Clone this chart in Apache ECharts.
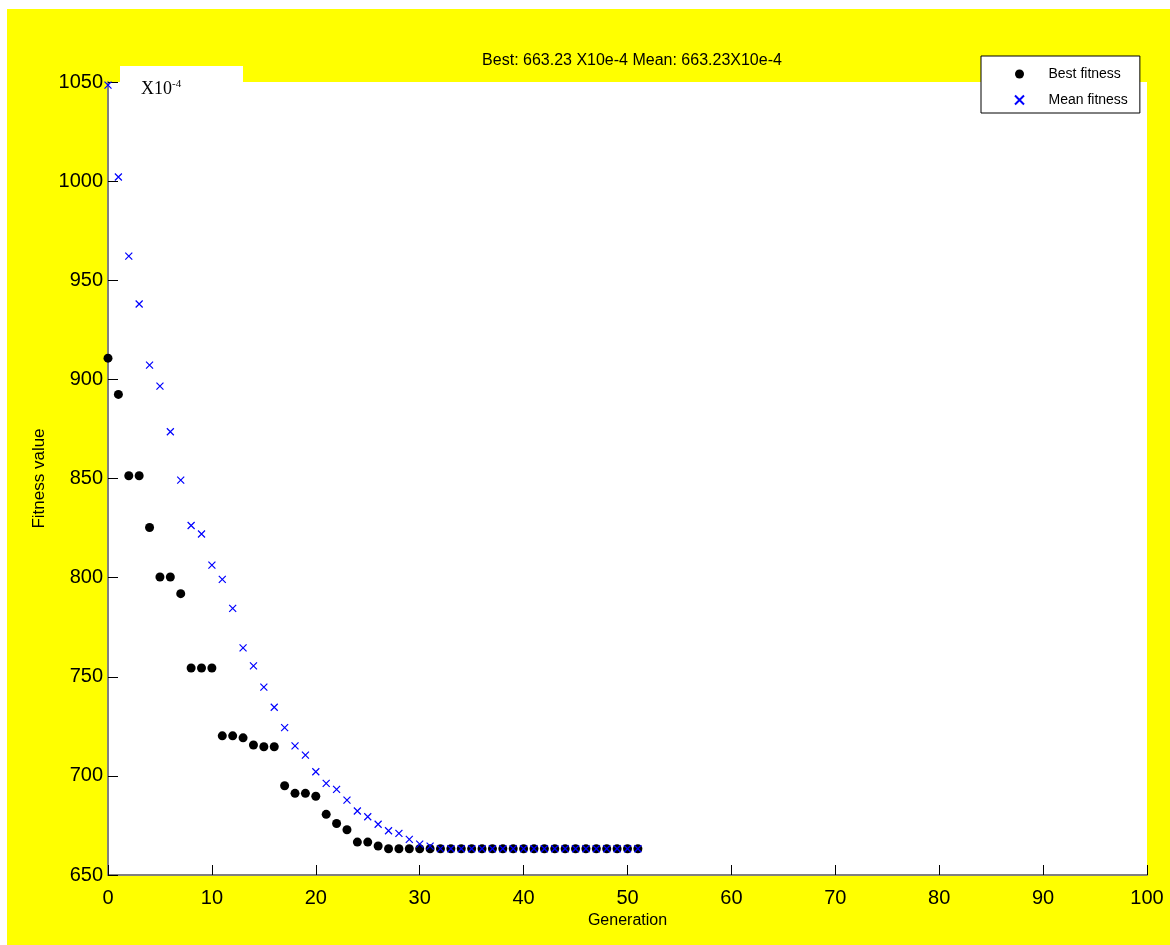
<!DOCTYPE html>
<html>
<head>
<meta charset="utf-8">
<script src="https://cdn.jsdelivr.net/npm/echarts@6/dist/echarts.min.js"></script>
<style>
html,body{margin:0;padding:0;background:#fff;}
#c{width:1170px;height:945px;}
</style>
</head>
<body>
<div id="c"></div>
<script>
const generations = Array.from({length: 52}, (_, i) => i);
const bestFitness = [
  910.7, 892.4, 851.4, 851.4, 825.3, 800.3, 800.3, 791.9, 754.4, 754.4,
  754.4, 720.2, 720.2, 719.2, 715.6, 714.7, 714.7, 695.0, 691.2, 691.2,
  689.7, 680.6, 676.0, 672.8, 666.6, 666.6, 664.6, 663.23, 663.23, 663.23,
  663.23, 663.23, 663.23, 663.23, 663.23, 663.23, 663.23, 663.23, 663.23, 663.23,
  663.23, 663.23, 663.23, 663.23, 663.23, 663.23, 663.23, 663.23, 663.23, 663.23,
  663.23, 663.23
];
const meanFitness = [
  1048.4, 1002.1, 962.2, 938.0, 907.2, 896.6, 873.6, 849.2, 826.3, 822.0,
  806.3, 799.1, 784.5, 764.6, 755.5, 744.8, 734.6, 724.3, 715.1, 710.5,
  702.1, 696.2, 693.2, 687.8, 682.3, 679.4, 675.6, 672.3, 671.0, 668.0,
  665.6, 664.6, 663.3, 663.23, 663.23, 663.23, 663.23, 663.23, 663.23, 663.23,
  663.23, 663.23, 663.23, 663.23, 663.23, 663.23, 663.23, 663.23, 663.23, 663.23,
  663.23, 663.23
];
const titleText = 'Best: 663.23 X10e-4 Mean: 663.23X10e-4';

const chart = echarts.init(document.getElementById('c'), null, {renderer: 'canvas'});
const font = 'Arial, "Liberation Sans", sans-serif';
const xMark = 'path://M0,0L10,10M10,0L0,10';

chart.setOption({
  backgroundColor: 'transparent',
  animation: false,
  graphic: [
    {type: 'rect', z: -10, silent: true, shape: {x: 7, y: 9, width: 1163, height: 936}, style: {fill: '#ffff00'}},
    {type: 'rect', z: 10, silent: true, shape: {x: 120, y: 66, width: 123, height: 18}, style: {fill: '#ffffff'}},
    {type: 'text', z: 11, left: 141, top: 79, style: {
      text: '{b|X10}{s|-4}', rich: {
        b: {fontFamily: '"Liberation Serif", "Times New Roman", serif', fontSize: 18, fill: '#000'},
        s: {fontFamily: '"Liberation Serif", "Times New Roman", serif', fontSize: 11, fill: '#000', verticalAlign: 'top', padding: [0, 0, 10, 0]}
      }
    }}
  ],
  title: {
    text: titleText, left: 627, top: 48, textAlign: 'center',
    textStyle: {fontFamily: font, fontSize: 16, fontWeight: 'normal', color: '#000'}
  },
  legend: {
    orient: 'vertical', left: 981, top: 56, width: 157,
    backgroundColor: '#fff', borderColor: '#000', borderWidth: 1,
    padding: [11, 12, 6, 33], itemGap: 12, itemWidth: 12, itemHeight: 9,
    textStyle: {fontFamily: font, fontSize: 14, color: '#000', padding: [0, 0, 0, 18], width: 95},
    data: [
      {name: 'Best fitness', icon: 'circle'},
      {name: 'Mean fitness', icon: xMark}
    ]
  },
  grid: {left: 108, right: 23, top: 82, bottom: 70, show: true, backgroundColor: '#fff', borderWidth: 0},
  xAxis: {
    type: 'value', min: 0, max: 100, interval: 10,
    name: 'Generation', nameLocation: 'middle', nameGap: 35,
    nameTextStyle: {fontFamily: font, fontSize: 16, color: '#000'},
    axisLine: {show: true, onZero: false, lineStyle: {color: '#808080', width: 2}},
    axisTick: {show: true, inside: true, length: 10, lineStyle: {color: '#000', width: 1}},
    axisLabel: {fontFamily: font, fontSize: 20, color: '#000', margin: 13},
    splitLine: {show: false}
  },
  yAxis: {
    type: 'value', min: 650, max: 1050, interval: 50,
    name: 'Fitness value', nameLocation: 'middle', nameGap: 60, nameRotate: 90,
    nameTextStyle: {fontFamily: font, fontSize: 17, color: '#000'},
    axisLine: {show: true, onZero: false, lineStyle: {color: '#808080', width: 2}},
    axisTick: {show: true, inside: true, length: 10, lineStyle: {color: '#000', width: 1}},
    axisLabel: {fontFamily: font, fontSize: 20, color: '#000', margin: 5, padding: [4, 0, 0, 0], formatter: v => String(v)},
    splitLine: {show: false}
  },
  series: [
    {
      name: 'Best fitness', type: 'scatter', symbol: 'circle', symbolSize: 9,
      itemStyle: {color: '#000', opacity: 1},
      data: generations.map((g, i) => [g, bestFitness[i]])
    },
    {
      name: 'Mean fitness', type: 'scatter', symbol: xMark, symbolSize: 7,
      itemStyle: {color: 'rgba(0,0,0,0)', borderColor: '#0000ff', borderWidth: 1.2, opacity: 1},
      data: generations.map((g, i) => [g, meanFitness[i]])
    }
  ]
});
</script>
</body>
</html>
